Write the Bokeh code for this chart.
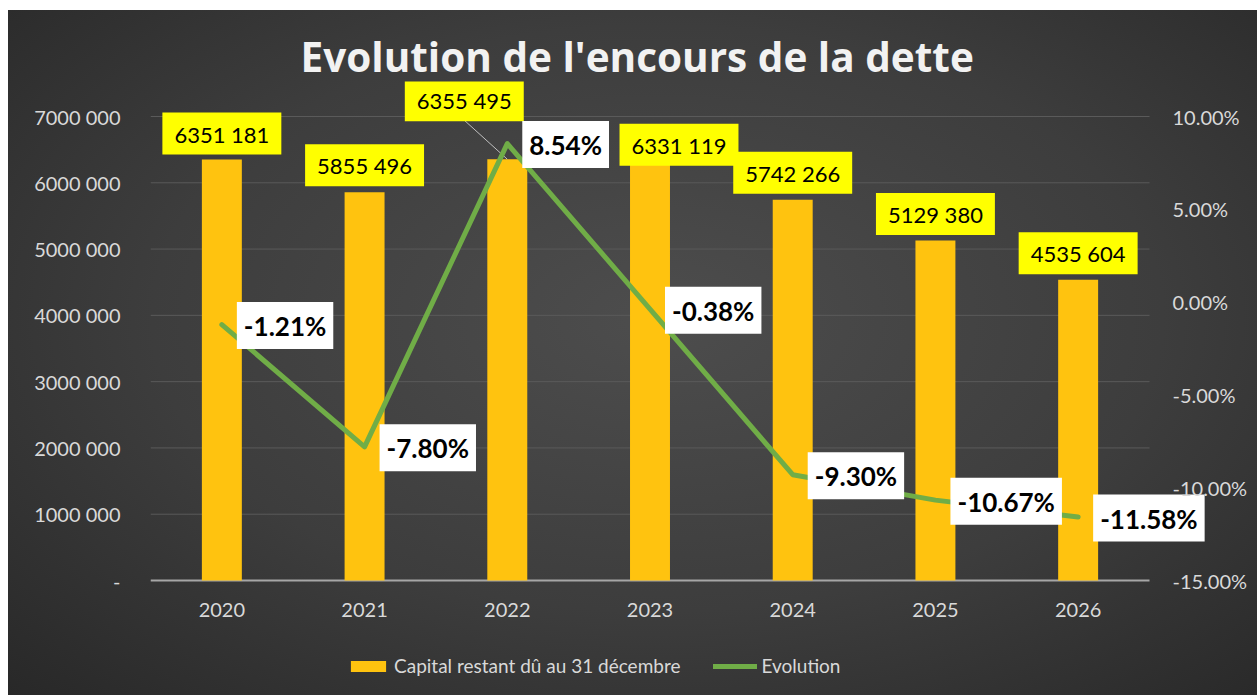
from bokeh.plotting import figure
from bokeh.models import (Range1d, LinearAxis, FixedTicker, NumeralTickFormatter,
                          ColumnDataSource, Legend, LegendItem)
from bokeh.core.properties import value
from bokeh.embed import file_html
from bokeh.resources import INLINE

# ---------------- data ----------------
years = ["2020", "2021", "2022", "2023", "2024", "2025", "2026"]
capital = [6351181, 5855496, 6355495, 6331119, 5742266, 5129380, 4535604]
evolution_pct = [-1.21, -7.80, 8.54, -0.38, -9.30, -10.67, -11.58]
left_ticks = [0, 1000000, 2000000, 3000000, 4000000, 5000000, 6000000, 7000000]
left_tick_labels = ["-", "1000 000", "2000 000", "3000 000", "4000 000",
                    "5000 000", "6000 000", "7000 000"]
right_ticks = [-0.15, -0.10, -0.05, 0.0, 0.05, 0.10]

# ---------------- style / layout ----------------
FONT = "Lato"
W, H = 1249, 685                 # canvas placed at page (8, 10)
TOP_EXTRA = 35                   # px of frame above the 7M grid line
BOTTOM_EXTRA = 110               # px of frame below the zero line (legend area)
B_L, B_R, B_T, B_B = 142, 12, 116 - 10 - TOP_EXTRA, 5
frame_w = W - B_L - B_R
CAT_PX = 999 / 7                 # pixels per category
X_PER_PX = 1 / CAT_PX
PX_7M = 464                      # pixel height of the 0..7M span
Y_PER_PX = 7000000 / PX_7M
P_PER_PX = 0.25 / PX_7M
ymax = 7000000 + TOP_EXTRA * Y_PER_PX
ymin = -BOTTOM_EXTRA * Y_PER_PX
pmax = 0.10 + TOP_EXTRA * P_PER_PX
pmin = -0.15 - BOTTOM_EXTRA * P_PER_PX
xmax = -0.5 + frame_w * X_PER_PX

XLAB_STANDOFF = -20
XLAB_TOP = 22                    # px from zero line to top of year labels

# label offsets (px)
bar_dx = [0, 0, -43, 29, 0, 0, 0]
bar_dy = [-26, -27, -59, -16, -27, -26.5, -26.5]

def fmt_cap(v):
    return f"{v // 1000} {v % 1000:03d}"

xs = list(range(len(years)))
src = ColumnDataSource(dict(
    x=xs, cap=capital, evo=[v / 100 for v in evolution_pct],
    cap_lbl=[fmt_cap(v) for v in capital],
    evo_lbl=[f"{v:.2f}%" for v in evolution_pct],
    dx=bar_dx, dy=bar_dy,
))

p = figure(width=W, height=H, output_backend="svg", toolbar_location=None,
           x_range=Range1d(-0.5, xmax), y_range=Range1d(ymin, ymax),
           min_border_left=B_L, min_border_right=B_R,
           min_border_top=B_T, min_border_bottom=B_B,
           tools="")
p.extra_y_ranges = {"pct": Range1d(pmin, pmax)}
p.styles = {"background": "radial-gradient(ellipse at 52% 45%, #4d4d4d 0%, #3d3d3d 55%, #282828 100%)",
            "margin-left": "8px", "margin-top": "10px"}
p.border_fill_color = None
p.background_fill_color = None
p.outline_line_color = None

# title
p.title.text = "Evolution de l'encours de la dette"
p.title.text_font = "Open Sans"
p.title.text_font_style = "bold"
p.title.text_font_size = "40.5px"
p.title.text_color = "#f2f2f2"
p.title.align = "left"
p.title.offset = 150
p.title.standoff = -4

# grid (horizontal lines at the left-axis ticks, across the category span)
p.xgrid.visible = False
p.ygrid.visible = False
p.segment(x0=[-0.5] * (len(left_ticks) - 1), x1=[6.5] * (len(left_ticks) - 1),
          y0=left_ticks[1:], y1=left_ticks[1:], line_color="#5a5a5a", line_width=1)
# category baseline at zero
p.segment(x0=[-0.5], x1=[6.5], y0=[0], y1=[0], line_color="#a6a6a6", line_width=2)

# x axis (year labels), placed just under the zero line
xa = p.xaxis[0]
xa.ticker = FixedTicker(ticks=xs)
xa.fixed_location = -(XLAB_TOP - XLAB_STANDOFF) * Y_PER_PX
xa.major_label_overrides = {i: y for i, y in enumerate(years)}
xa.axis_line_color = None
xa.major_tick_line_color = None
xa.minor_tick_line_color = None
xa.major_tick_out = 0
xa.major_tick_in = 0
xa.major_label_standoff = XLAB_STANDOFF
xa.major_label_text_font = FONT
xa.major_label_text_font_size = "20px"
xa.major_label_text_color = "#d9d9d9"

# left axis
ya = p.yaxis[0]
ya.ticker = FixedTicker(ticks=left_ticks)
ya.major_label_overrides = {t: l for t, l in zip(left_ticks, left_tick_labels)}
ya.axis_line_color = None
ya.major_tick_line_color = None
ya.minor_tick_line_color = None
ya.major_tick_out = 0
ya.major_tick_in = 0
ya.major_label_standoff = 30
ya.major_label_text_font = FONT
ya.major_label_text_font_size = "20px"
ya.major_label_text_color = "#d9d9d9"

# right axis (labels pulled back over the frame's label margin)
ra = LinearAxis(y_range_name="pct", ticker=FixedTicker(ticks=right_ticks),
                formatter=NumeralTickFormatter(format="0.00%"))
ra.axis_line_color = None
ra.major_tick_line_color = None
ra.minor_tick_line_color = None
ra.major_tick_out = 0
ra.major_tick_in = 0
ra.major_label_standoff = 1172 - (8 + W - B_R)
ra.major_label_text_font = FONT
ra.major_label_text_font_size = "20px"
ra.major_label_text_color = "#d9d9d9"
p.add_layout(ra, "right")

# bars
bars = p.vbar(x="x", top="cap", width=0.28, bottom=0, source=src,
              fill_color="#FFC30F", line_color=None)

# leader line for 2022 label
i = 2
p.segment(x0=[xs[i] + bar_dx[i] * X_PER_PX], y0=[capital[i] + 39 * Y_PER_PX],
          x1=[xs[i]], y1=[capital[i]], line_color="#c0c0c0", line_width=1)

# line
line = p.line(x="x", y="evo", y_range_name="pct", source=src,
              line_color="#70AD47", line_width=5, line_cap="round", line_join="round")

# bar labels
p.text(x="x", y="cap", text="cap_lbl", source=src,
       x_offset="dx", y_offset="dy",
       text_font=value(FONT), text_font_size="22px", text_color="black",
       text_align="center", text_baseline="middle",
       background_fill_color="#FFFF00",
       padding=dict(left=12, right=12, top=8, bottom=7))

# line labels
p.text(x="x", y="evo", text="evo_lbl", source=src, y_range_name="pct",
       x_offset=15, y_offset=1,
       text_font=value(FONT), text_font_size="26px", text_font_style="bold",
       text_color="black", text_align="left", text_baseline="middle",
       anchor="center_left",
       background_fill_color="white",
       padding=dict(left=7, right=7, top=8, bottom=7))

legend = Legend(items=[LegendItem(label="Capital restant dû au 31 décembre", renderers=[bars]),
                       LegendItem(label="Evolution", renderers=[line])],
                location=(196, 13), orientation="horizontal",
                glyph_width=44, glyph_height=14, label_standoff=4, spacing=33,
                padding=0, margin=0, border_line_color=None,
                background_fill_alpha=0,
                label_text_font=FONT, label_text_font_size="19px",
                label_text_color="#d9d9d9")
p.add_layout(legend)

open("out.html", "w").write(file_html(p, INLINE))
